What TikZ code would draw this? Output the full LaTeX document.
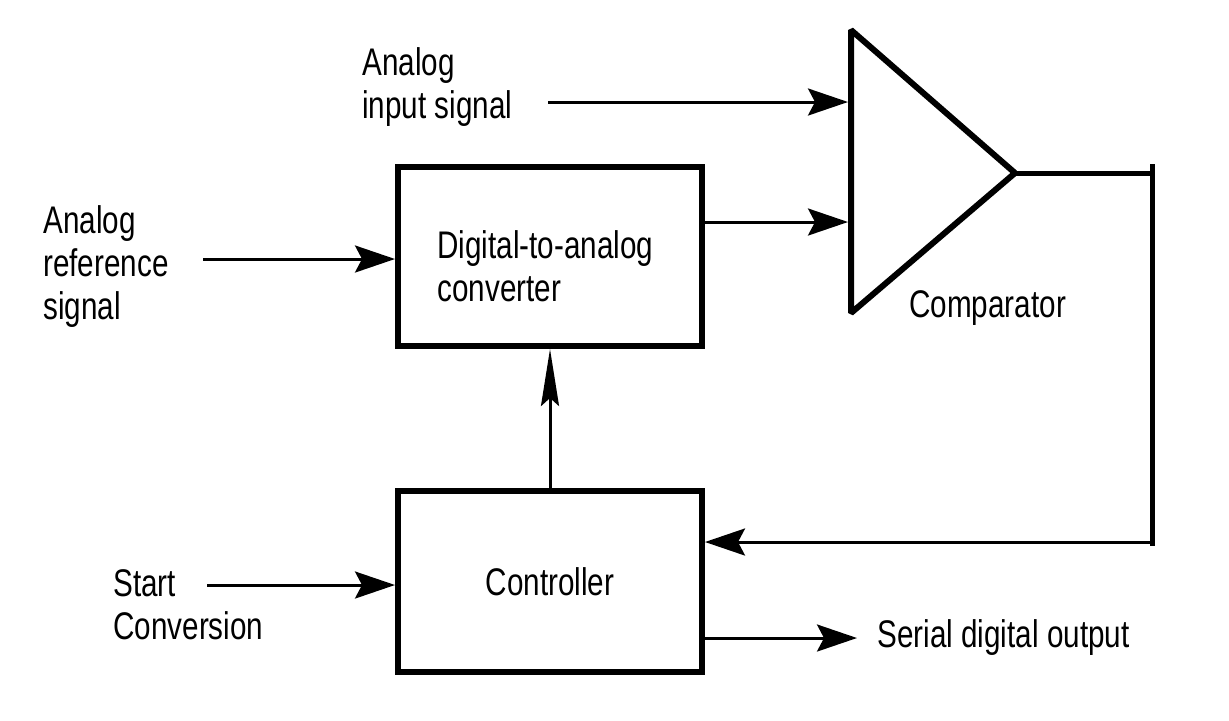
\documentclass[tikz,border=0pt]{standalone}
\usepackage{fontspec}
\setmainfont{Liberation Sans}[FakeStretch=0.77]
\usetikzlibrary{arrows.meta}
\begin{document}
\begin{tikzpicture}[x=0.5pt,y=-0.5pt,
  txt/.style={font=\fontsize{19.25}{21.5}\selectfont, inner sep=0pt, align=left},
  blk/.style={draw, line width=3pt, minimum width=152pt, txt, align=left},
  harr/.style={line width=1.5pt, -{Stealth[length=20pt, width=13.5pt, inset=3.5pt]}},
  varr/.style={line width=1.5pt, -{Stealth[length=28.5pt, width=9pt, inset=4pt]}},
  tri/.style={line width=3pt, line join=bevel},
  outline/.style={line width=2.5pt}]
\useasboundingbox (0,0) rectangle (1229,720);

% blocks
\node[blk, minimum height=89.5pt] (dac) at (550,256.5) {};
\node[txt, anchor=base west] (dactxt) at (437,301) {Digital-to-analog\\converter};
\node[blk, minimum height=90.5pt] (ctrl) at (550,581.5) {Controller};

% comparator
\coordinate (ctop) at (851,30);
\coordinate (cbot) at (851,313);
\coordinate (cout) at (1015,173);
\draw[tri] (ctop) -- (cout) -- (cbot) -- cycle;
\node[txt, anchor=base west] (cmp) at (909,317) {Comparator};

% labels (anchor at baseline of last line)
\node[txt, anchor=base west] (ain) at (362,118) {Analog\\input signal};
\node[txt, anchor=base west] (aref) at (43,319) {Analog\\reference\\signal};
\node[txt, anchor=base west] (start) at (113,639) {Start\\Conversion};
\node[txt, anchor=base west] (ser) at (877,647) {Serial digital output};

% connector end points
\coordinate (ainS) at (548,102);
\coordinate (ainE) at (848,102);
\coordinate (dacE) at (848,222);
\coordinate (arefS) at (203,259);
\coordinate (startS) at (207,585);
\coordinate (serE) at (857,638);
\coordinate (fbC) at (1152,173);
\coordinate (fbT) at (1152,166);
\coordinate (fbB) at (1152,542);

% connectors
\draw[harr] (ainS) -- (ainE);
\draw[harr] (dac.east |- dacE) -- (dacE);
\draw[harr] (arefS) -- (dac.west |- arefS);
\draw[varr] (ctrl.north) -- (dac.south);
\draw[harr] (startS) -- (ctrl.west |- startS);
\draw[harr] (ctrl.east |- serE) -- (serE);
\draw[outline] (cout) -- (fbC);
\draw[outline, line cap=rect] (fbT) -- ([yshift=-0.75pt]fbB);
\draw[harr] (fbB) -- (ctrl.east |- fbB);
\end{tikzpicture}
\end{document}
